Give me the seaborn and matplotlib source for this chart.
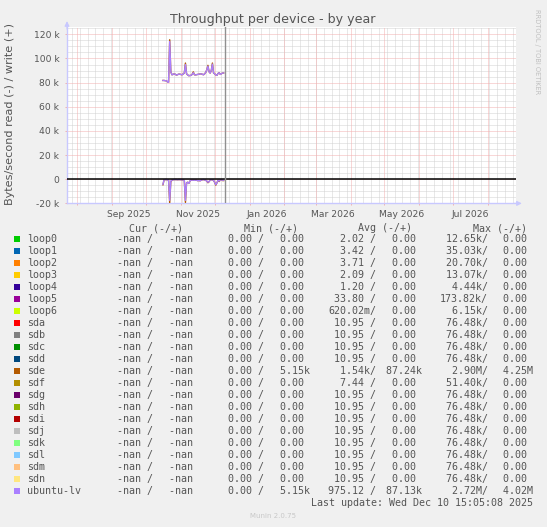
import numpy as np
import pandas as pd
import matplotlib
matplotlib.use("Agg")
import matplotlib.pyplot as plt
from matplotlib.patches import Rectangle
import seaborn as sns

W, H = 547, 527

# ---- data ----
devices = ["loop0", "loop1", "loop2", "loop3", "loop4", "loop5", "loop6",
           "sda", "sdb", "sdc", "sdd", "sde", "sdf", "sdg", "sdh", "sdi",
           "sdj", "sdk", "sdl", "sdm", "sdn", "ubuntu-lv"]
colors = ["#00CC00", "#0066B3", "#FF8000", "#FFCC00", "#330099", "#990099",
          "#CCFF00", "#FF0000", "#808080", "#008F00", "#00487D", "#B35A00",
          "#B38F00", "#6B006B", "#8FB300", "#B30000", "#BEBEBE", "#80FF80",
          "#80C9FF", "#FFC080", "#FFE680", "#AA80FF"]

cur_read = ["-nan"] * 22
cur_write = ["-nan"] * 22
min_read = ["0.00"] * 22
min_write = ["0.00"] * 11 + ["5.15k"] + ["0.00"] * 9 + ["5.15k"]
avg_read = ["2.02", "3.42", "3.71", "2.09", "1.20", "33.80", "620.02m",
            "10.95", "10.95", "10.95", "10.95", "1.54k", "7.44"] + ["10.95"] * 8 + ["975.12"]
avg_write = ["0.00"] * 11 + ["87.24k"] + ["0.00"] * 9 + ["87.13k"]
max_read = ["12.65k", "35.03k", "20.70k", "13.07k", "4.44k", "173.82k", "6.15k",
            "76.48k", "76.48k", "76.48k", "76.48k", "2.90M", "51.40k"] + ["76.48k"] * 8 + ["2.72M"]
max_write = ["0.00"] * 11 + ["4.25M"] + ["0.00"] * 9 + ["4.02M"]

# daily averages (k bytes/s) from 2025-10-16 on
first_day = "2025-10-16"
lv_write = [81.8, 81.8, 81.6, 81.5, 80.8, 80.2, 114.0, 89.0, 86.5, 86.8,
            87.3, 86.9, 86.2, 86.6, 87.0, 87.0, 86.7, 86.5, 87.2, 87.9,
            95.0, 87.3, 86.4, 85.7, 85.9, 86.0, 86.9, 88.2, 86.5, 86.4,
            86.6, 86.8, 87.0, 87.2, 87.3, 86.9, 86.5, 87.2, 88.4, 90.5,
            93.6, 89.0, 87.9, 90.0, 95.3, 88.0, 87.3, 86.4, 86.0, 87.6,
            88.2, 86.8, 87.4, 87.9, 88.0]
sde_write = [81.8, 81.8, 81.6, 81.5, 80.8, 80.2, 115.5, 89.0, 86.5, 86.8,
             87.3, 86.9, 86.2, 86.6, 87.0, 87.0, 86.7, 86.5, 87.2, 87.9,
             96.2, 87.3, 86.4, 85.7, 85.9, 86.0, 86.9, 88.9, 86.5, 86.4,
             86.6, 86.8, 87.0, 87.2, 87.3, 86.9, 86.5, 87.2, 88.4, 90.5,
             94.3, 89.0, 87.9, 90.0, 96.2, 88.0, 87.3, 86.4, 86.0, 87.6,
             88.2, 86.8, 87.4, 87.9, 88.0]
lv_read = [4.2, 0.5, 0.3, 0.3, 0.4, 0.6, 17.5, 1.5, 0.8, 0.4,
           0.3, 0.3, 0.3, 0.4, 0.3, 0.3, 0.4, 0.5, 0.6, 1.0,
           17.5, 3.0, 2.5, 3.5, 1.5, 0.6, 0.8, 0.7, 0.9, 0.6,
           0.8, 1.2, 1.0, 1.3, 0.8, 0.4, 0.3, 0.5, 0.8, 1.5,
           2.5, 2.0, 0.6, 0.4, 0.5, 1.0, 2.5, 4.5, 3.0, 0.8,
           1.5, 0.6, 0.5, 0.8, 0.8]
sde_read = [4.6, 0.5, 0.3, 0.3, 0.4, 0.6, 19.5, 1.9, 0.8, 0.4,
            0.3, 0.3, 0.3, 0.4, 0.3, 0.3, 0.4, 0.5, 0.6, 1.0,
            19.2, 3.0, 2.5, 3.5, 1.5, 0.6, 0.8, 0.7, 0.9, 0.6,
            0.8, 1.2, 1.0, 1.3, 0.8, 0.4, 0.3, 0.5, 0.8, 1.5,
            2.9, 2.0, 0.6, 0.4, 0.5, 1.0, 2.5, 4.9, 3.0, 0.8,
            1.9, 0.6, 0.5, 1.1, 1.1]

y_ticks = [-20000, 0, 20000, 40000, 60000, 80000, 100000, 120000]
y_labels = ["-20 k", "0", "20 k", "40 k", "60 k", "80 k", "100 k", "120 k"]
x_labels = ["Sep 2025", "Nov 2025", "Jan 2026", "Mar 2026", "May 2026", "Jul 2026"]
x_start, x_end = pd.Timestamp("2025-07-22 16:00"), pd.Timestamp("2026-08-26 00:00")
last_update = pd.Timestamp("2025-12-10 08:00")

# ---- build frame for seaborn ----
days = pd.date_range(first_day, periods=len(lv_write), freq="D")
rows = []
for dev, wr, rd in [("sde", sde_write, sde_read), ("ubuntu-lv", lv_write, lv_read)]:
    for d, w, r in zip(days, wr, rd):
        rows.append({"date": d, "value": w * 1000, "device": dev, "dir": "write"})
        rows.append({"date": d, "value": -r * 1000, "device": dev, "dir": "read"})
df = pd.DataFrame(rows)

txt = "#555555"
grid_minor = "#D2D2D2"
grid_major = "#F3B0B0"
fig = plt.figure(figsize=(W / 100, H / 100), dpi=100, facecolor="#F0F0F0")
ax = fig.add_axes([67 / W, 1 - 203.4 / H, 449 / W, 176.1 / H])
ax.set_facecolor("white")

# dotted rrdtool-style grid
gkw = dict(lw=0.72, ls=(0, (1, 1)))
for v in np.arange(-20000, 125001, 5000):
    major = v % 20000 == 0
    ax.axhline(v, color=grid_major if major else grid_minor,
               zorder=1 if major else 0.5, **gkw)
for d in pd.date_range("2025-07-27", "2026-08-25", freq="W-SUN"):
    ax.axvline(d, color=grid_minor, zorder=0.5, **gkw)
month_starts = pd.date_range("2025-08-01", "2026-08-01", freq="MS")
for d in month_starts:
    ax.axvline(d, color=grid_major, zorder=1, **gkw)

sns.lineplot(data=df, x="date", y="value", hue="device", units="dir",
             estimator=None, palette={"sde": "#B35A00", "ubuntu-lv": "#AA80FF"},
             hue_order=["sde", "ubuntu-lv"], lw=1.0, legend=False, ax=ax, zorder=3)

ax.axhline(0, color="black", lw=1.1, zorder=4)
ax.axvline(last_update, color="#909090", lw=1.0, zorder=4)

ax.set_xlim(x_start, x_end)
ax.set_ylim(-20000, 125800)
ax.set_yticks(y_ticks)
ax.set_yticklabels(y_labels)
label_pos = [pd.Timestamp(m + "-01") + pd.Timedelta(days=15)
             for m in ["2025-09", "2025-11", "2026-01", "2026-03", "2026-05", "2026-07"]]
ax.set_xticks(label_pos)
ax.set_xticklabels(x_labels)
ax.set_xticks(month_starts, minor=True)
ax.tick_params(axis="x", which="major", length=0, pad=4.5, labelsize=6.6, labelcolor=txt)
ax.tick_params(axis="x", which="minor", length=1.5, color=grid_major, width=0.7)
ax.tick_params(axis="y", which="major", length=1.5, color=grid_major, width=0.7,
               pad=4, labelsize=6.6, labelcolor=txt)
ax.set_xlabel("")
ax.set_ylabel("")
for s in ["top", "right"]:
    ax.spines[s].set_visible(False)
for s in ["left", "bottom"]:
    ax.spines[s].set_color("#C8C8FF")
    ax.spines[s].set_linewidth(1.0)
arrow = dict(arrowstyle="-|>", color="#C8C8FF", lw=0.8, mutation_scale=7, shrinkA=0, shrinkB=0)
ax.annotate("", xy=(0, 1.035), xytext=(0, 0.99), xycoords="axes fraction",
            arrowprops=arrow, annotation_clip=False)
ax.annotate("", xy=(1.013, 0), xytext=(0.995, 0), xycoords="axes fraction",
            arrowprops=arrow, annotation_clip=False)

# titles
fig.text(273 / W, 1 - 19 / H, "Throughput per device - by year", ha="center",
         va="center", fontsize=9.1, color=txt)
fig.text(10 / W, 1 - 114 / H, "Bytes/second read (-) / write (+)", rotation=90,
         ha="center", va="center", fontsize=8.1, color=txt)
fig.text(537 / W, 1 - 52 / H, "RRDTOOL / TOBI OETIKER", rotation=270,
         ha="center", va="center", fontsize=4.8, color="#C0C0C0")

# legend
mono = dict(family="DejaVu Sans Mono", fontsize=7.2, color=txt, va="center")


def fmt(v):
    if v[-1].isalpha() and v != "-nan":
        return v[:-1].rjust(6) + v[-1]
    return v.rjust(6) + " "


for hx, h in zip([129.3, 244, 358.3, 472.7], ["Cur (-/+)", "Min (-/+)", "Avg (-/+)", "Max (-/+)"]):
    fig.text(hx / W, 1 - 228.3 / H, h, **mono)

starts = [105.3, 157, 215.7, 268.5, 328, 379.7, 439.7, 491.3]
for i, dev in enumerate(devices):
    y = 239.3 + 12 * i
    fig.add_artist(Rectangle((14 / W, 1 - (y + 3) / H), 6 / W, 6 / H,
                             transform=fig.transFigure, color=colors[i], lw=0))
    fig.text(26.7 / W, 1 - y / H, dev, **mono)
    pieces = [fmt(cur_read[i]) + "/", fmt(cur_write[i]),
              fmt(min_read[i]) + "/", fmt(min_write[i]),
              fmt(avg_read[i]) + "/", fmt(avg_write[i]),
              fmt(max_read[i]) + "/", fmt(max_write[i])]
    for sx, p in zip(starts, pieces):
        fig.text(sx / W, 1 - y / H, p, **mono)

fig.text(532.8 / W, 1 - 503.3 / H, "Last update: Wed Dec 10 15:05:08 2025",
         ha="right", **mono)
fig.text(272.9 / W, 1 - 515.7 / H, "Munin 2.0.75", ha="center", va="center",
         fontsize=5.0, color="#C8C8C8")

fig.savefig("out.png", dpi=100, facecolor=fig.get_facecolor())
